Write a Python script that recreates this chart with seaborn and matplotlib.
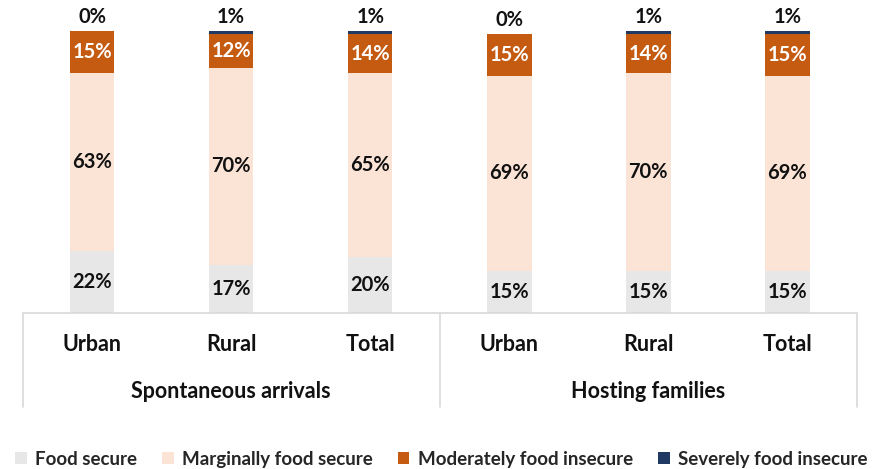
import matplotlib
matplotlib.use("Agg")
import matplotlib.pyplot as plt
from matplotlib.patches import Patch
import numpy as np
import pandas as pd
import seaborn as sns

# Food security status by household type and area (%)
groups = ["Spontaneous arrivals", "Hosting families"]
areas = ["Urban", "Rural", "Total"]
food_secure = [22, 17, 20, 15, 15, 15]
marginally_secure = [63, 70, 65, 69, 70, 69]
moderately_insecure = [15, 12, 14, 15, 14, 15]
severely_insecure = [0, 1, 1, 0, 1, 1]

series_names = ["Food secure", "Marginally food secure",
                "Moderately food insecure", "Severely food insecure"]
colors = ["#E7E7E7", "#FBE3D6", "#C55A11", "#1F3864"]

sns.set_theme(style="white")
plt.rcParams["font.family"] = ["Lato", "DejaVu Sans"]

keys = [f"{g}|{a}" for g in groups for a in areas]
layers = [food_secure, marginally_secure, moderately_insecure, severely_insecure]
cum = np.cumsum(np.array(layers), axis=0)

fig = plt.figure(figsize=(8.83, 4.69), dpi=100)
ax = fig.add_axes([22.5 / 883, 1 - 313 / 469, (857 - 22.5) / 883, (313 - 31) / 469])

# Stacked bars: draw cumulative totals from the top layer down
for i in range(3, -1, -1):
    df = pd.DataFrame({"key": keys, "value": cum[i]})
    sns.barplot(data=df, x="key", y="value", color=colors[i], width=0.32,
                saturation=1, ax=ax, order=keys, edgecolor="none", linewidth=0)

ax.set_xlim(-0.5, 5.5)
ax.set_ylim(0, 100)
ax.set_xlabel("")
ax.set_ylabel("")
ax.set_xticks([])
ax.set_yticks([])
for s in ax.spines.values():
    s.set_visible(False)

lab_fs = 14.5
dark = "#111111"

# Segment value labels
for j in range(6):
    fs = food_secure[j]
    ax.text(j, fs / 2, f"{fs}%", ha="center", va="center", fontsize=lab_fs,
            fontweight="bold", color=dark)
    ms = marginally_secure[j]
    ax.text(j, fs + ms / 2, f"{ms}%", ha="center", va="center", fontsize=lab_fs,
            fontweight="bold", color=dark)
    mi = moderately_insecure[j]
    ax.text(j, fs + ms + mi / 2, f"{mi}%", ha="center", va="center", fontsize=lab_fs,
            fontweight="bold", color="white")
    si = severely_insecure[j]
    ax.text(j, cum[3][j] + 1.5, f"{si}%", ha="center", va="bottom", fontsize=lab_fs,
            fontweight="bold", color=dark, clip_on=False)

# Multi-level category axis
line_kw = dict(color="#D9D9D9", linewidth=1.2, clip_on=False)
ax.plot([-0.5, 5.5], [0, 0], **line_kw)
for xv in [-0.5, 2.5, 5.5]:
    ax.plot([xv, xv], [0, -33.5], **line_kw)
for j in range(6):
    ax.text(j, -11.3, areas[j % 3], ha="center", va="center", fontsize=15.5,
            fontweight="bold", color=dark, clip_on=False)
for g, name in enumerate(groups):
    ax.text(1 + 3 * g, -27.7, name, ha="center", va="center", fontsize=15.5,
            fontweight="bold", color=dark, clip_on=False)

handles = [Patch(facecolor=c, edgecolor="none") for c in colors]
fig.legend(handles, series_names, loc="center", ncol=4,
           bbox_to_anchor=(0.5, 1 - 459 / 469), frameon=False,
           prop={"size": 13.5, "weight": "bold"}, handlelength=0.6,
           handleheight=0.6, handletextpad=0.45, columnspacing=1.35)

fig.savefig("out.png", dpi=100, facecolor="white")
